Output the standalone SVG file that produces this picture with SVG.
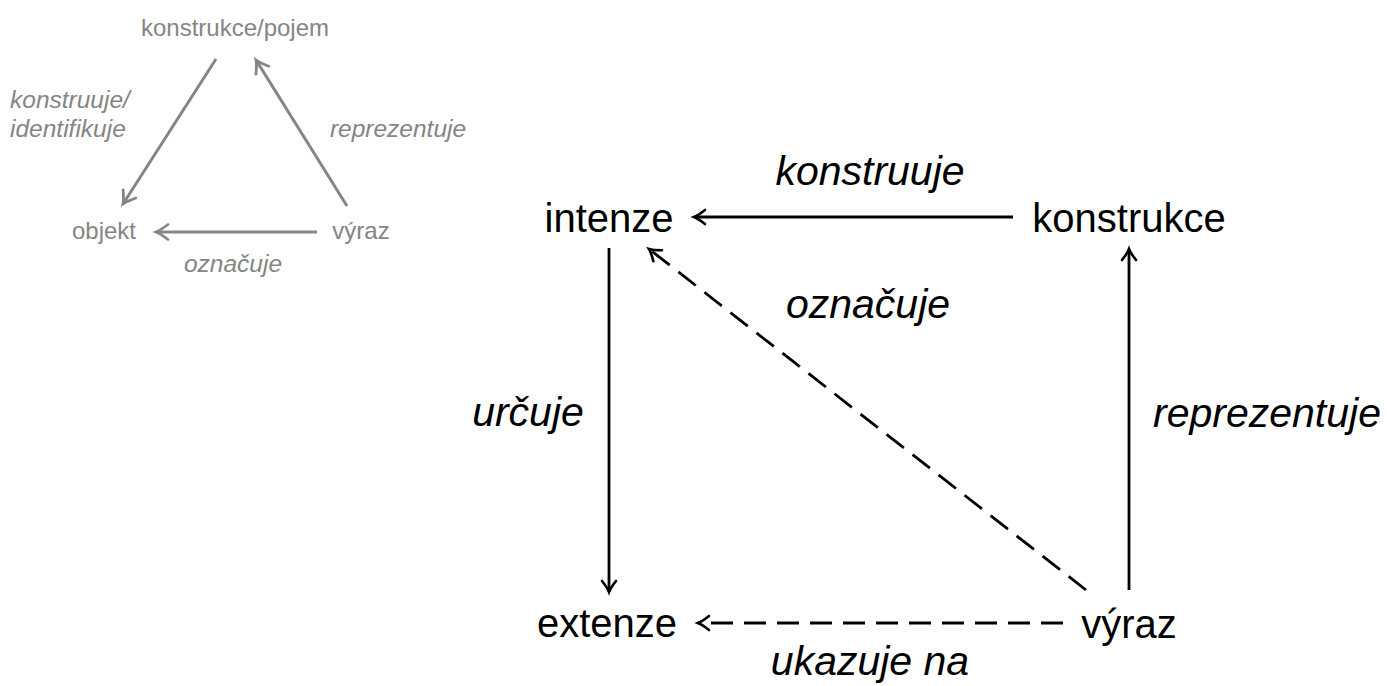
<svg xmlns="http://www.w3.org/2000/svg" width="1387" height="686" viewBox="0 0 1387 686">
<style>
.node{font-family:"Liberation Sans",Arial,sans-serif;font-size:40px;fill:#000;text-anchor:middle}
.lbl{font-family:"Liberation Sans",Arial,sans-serif;font-size:41px;font-style:italic;fill:#000;text-anchor:middle}
.snode{font-family:"Liberation Sans",Arial,sans-serif;font-size:24px;fill:#858585}
.slbl{font-family:"Liberation Sans",Arial,sans-serif;font-size:24.5px;font-style:italic;fill:#858585}
.e{stroke:#000;stroke-width:2.8;fill:none}
.d{stroke-dasharray:22 11}
.se{stroke:#858585;stroke-width:3;fill:none}
</style>
<defs>
<marker id="ah" markerUnits="userSpaceOnUse" orient="auto" refX="0" refY="0" markerWidth="30" markerHeight="30" viewBox="-15 -15 30 30" overflow="visible">
<path d="M -11 -7 Q -4 -1.5 0 0 Q -4 1.5 -11 7" stroke="#000" stroke-width="2.6" fill="none" stroke-linecap="round"/>
</marker>
<marker id="sah" markerUnits="userSpaceOnUse" orient="auto" refX="0" refY="0" markerWidth="30" markerHeight="30" viewBox="-15 -15 30 30" overflow="visible">
<path d="M -12 -7.5 Q -4 -1.5 0 0 Q -4 1.5 -12 7.5" stroke="#858585" stroke-width="2.8" fill="none" stroke-linecap="round"/>
</marker>
</defs>

<g id="small-triangle">
<g id="s-konstrukce"><text class="snode" x="235" y="36" text-anchor="middle">konstrukce/pojem</text></g>
<g id="s-objekt"><text class="snode" x="104" y="239" text-anchor="middle">objekt</text></g>
<g id="s-vyraz"><text class="snode" x="361" y="239" text-anchor="middle">výraz</text></g>
<g id="s-connectors">
<line class="se" x1="216" y1="59" x2="123" y2="204" marker-end="url(#sah)"/>
<line class="se" x1="347" y1="206" x2="256" y2="60" marker-end="url(#sah)"/>
<line class="se" x1="317" y1="232" x2="156" y2="232" marker-end="url(#sah)"/>
</g>
<text class="slbl" x="10" y="108">konstruuje/</text>
<text class="slbl" x="10" y="137">identifikuje</text>
<text class="slbl" x="398" y="137" text-anchor="middle">reprezentuje</text>
<text class="slbl" x="233" y="272" text-anchor="middle">označuje</text>
</g>

<g id="intenze"><text class="node" x="609" y="232">intenze</text></g>
<g id="konstrukce"><text class="node" x="1129" y="232">konstrukce</text></g>
<g id="extenze"><text class="node" x="607" y="637">extenze</text></g>
<g id="vyraz"><text class="node" x="1129" y="638">výraz</text></g>

<g id="connectors">
<line class="e" x1="1013" y1="217" x2="694" y2="217" marker-end="url(#ah)"/>
<line class="e" x1="609" y1="248" x2="609" y2="592" marker-end="url(#ah)"/>
<line class="e" x1="1129" y1="590" x2="1129" y2="249" marker-end="url(#ah)"/>
<line class="e d" x1="1086" y1="590" x2="649" y2="249" marker-end="url(#ah)"/>
<line class="e d" x1="1063" y1="623" x2="698" y2="623" marker-end="url(#ah)"/>
</g>

<g id="labels">
<text class="lbl" x="870" y="185">konstruuje</text>
<text class="lbl" x="868" y="318">označuje</text>
<text class="lbl" x="528" y="426">určuje</text>
<text class="lbl" x="1267" y="427">reprezentuje</text>
<text class="lbl" x="870" y="675">ukazuje na</text>
</g>
</svg>
